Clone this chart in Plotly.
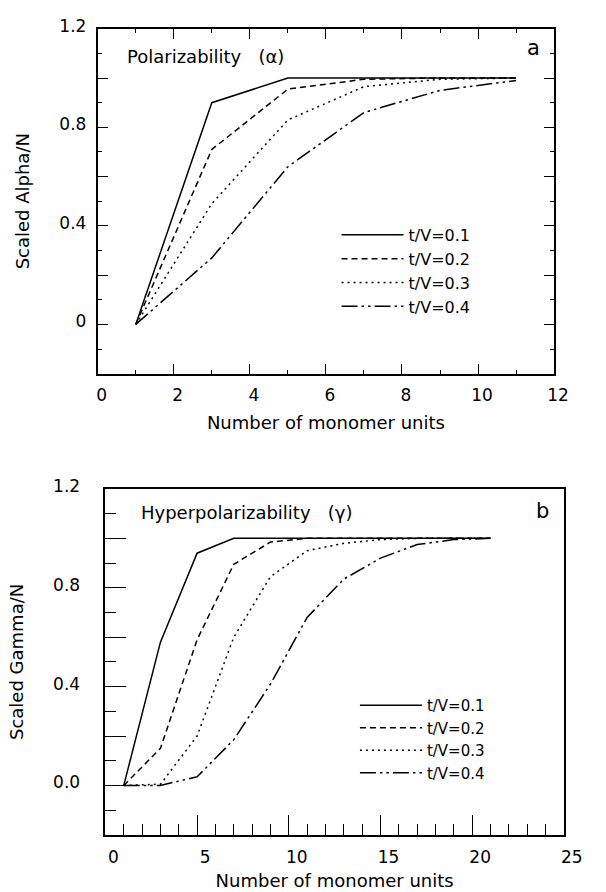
import plotly.graph_objects as go

# ---------------- data ----------------
series_labels = ["t/V=0.1", "t/V=0.2", "t/V=0.3", "t/V=0.4"]

# panel a: polarizability
n_alpha = [1, 3, 5, 7, 9, 11]
alpha_tv01 = [0.0, 0.90, 1.00, 1.00, 1.00, 1.00]
alpha_tv02 = [0.0, 0.71, 0.955, 0.995, 1.00, 1.00]
alpha_tv03 = [0.0, 0.49, 0.83, 0.965, 0.995, 1.00]
alpha_tv04 = [0.0, 0.27, 0.64, 0.86, 0.95, 0.99]

# panel b: hyperpolarizability
n_gamma = [1, 3, 5, 7, 9, 11, 13, 15, 17, 19, 21]
gamma_tv01 = [0.0, 0.58, 0.94, 1.00, 1.00, 1.00, 1.00, 1.00, 1.00, 1.00, 1.00]
gamma_tv02 = [0.0, 0.15, 0.59, 0.895, 0.985, 1.00, 1.00, 1.00, 1.00, 1.00, 1.00]
gamma_tv03 = [0.0, 0.005, 0.20, 0.60, 0.845, 0.95, 0.98, 0.995, 1.00, 1.00, 1.00]
gamma_tv04 = [0.0, 0.0, 0.035, 0.185, 0.41, 0.68, 0.835, 0.92, 0.975, 0.995, 1.00]

# tick labels
a_x_tickvals = [0, 2, 4, 6, 8, 10, 12]
a_x_ticktext = ["0", "2", "4", "6", "8", "10", "12"]
a_y_tickvals = [-0.2, 0.0, 0.2, 0.4, 0.6, 0.8, 1.0, 1.2]
a_y_ticktext = ["", "0", "", "0.4", "", "0.8", "", "1.2"]
b_x_tickvals = [0, 5, 10, 15, 20, 25]
b_x_ticktext = ["0", "5", "10", "15", "20", "25"]
b_y_tickvals = [-0.2, 0.0, 0.2, 0.4, 0.6, 0.8, 1.0, 1.2]
b_y_ticktext = ["", "0.0", "", "0.4", "", "0.8", "", "1.2"]

# ---------------- styling ----------------
W, H = 606, 892
FONT = "DejaVu Sans"
NB = "\u00a0"
dashes = ["solid", "6px,4px", "2px,4px", "16px,4px,2.5px,4px,2.5px,4px"]

fig = go.Figure()

alpha_series = [alpha_tv01, alpha_tv02, alpha_tv03, alpha_tv04]
gamma_series = [gamma_tv01, gamma_tv02, gamma_tv03, gamma_tv04]

for lab, ys, d in zip(series_labels, alpha_series, dashes):
    fig.add_trace(go.Scatter(x=n_alpha, y=ys, mode="lines", name=lab,
                             line=dict(color="black", width=1.5, dash=d),
                             xaxis="x", yaxis="y", legend="legend"))
for lab, ys, d in zip(series_labels, gamma_series, dashes):
    fig.add_trace(go.Scatter(x=n_gamma, y=ys, mode="lines", name=lab,
                             line=dict(color="black", width=1.5, dash=d),
                             xaxis="x2", yaxis="y2", legend="legend2"))

def px_x(p):
    return p / W

def px_y(p):
    return 1 - p / H

axis_common = dict(showgrid=False, zeroline=False, showline=True, linecolor="black",
                   linewidth=1.8, ticks="inside", tickcolor="black", tickwidth=1.3,
                   tickfont=dict(family=FONT, size=17, color="black"))

fig.update_layout(
    width=W, height=H,
    margin=dict(l=0, r=0, t=0, b=0),
    paper_bgcolor="white", plot_bgcolor="white",
    font=dict(family=FONT, size=17, color="black"),
    xaxis=dict(**axis_common, domain=[px_x(100), px_x(572)], range=[0, 12], anchor="y",
               mirror="ticks", tickmode="array", tickvals=a_x_tickvals, ticktext=a_x_ticktext,
               ticklen=10, minor=dict(dtick=1, ticklen=4, ticks="inside", tickcolor="black"),
               ticklabelstandoff=5, ticklabelshift=4,
               title=dict(text="Number of monomer units", font=dict(family=FONT, size=18),
                          standoff=12)),
    yaxis=dict(**axis_common, domain=[px_y(366), px_y(16)], range=[-0.2, 1.2], anchor="x",
               mirror="ticks", tickmode="array", tickvals=a_y_tickvals, ticktext=a_y_ticktext,
               ticklen=10, minor=dict(dtick=0.1, ticklen=4, ticks="inside", tickcolor="black"),
               ticklabelstandoff=6, ticklabelshift=-3,
               title=dict(text="Scaled Alpha/N", font=dict(family=FONT, size=18), standoff=25)),
    xaxis2=dict(**axis_common, domain=[px_x(108), px_x(582)], range=[0, 25], anchor="y2",
                mirror=True, tickmode="array", tickvals=b_x_tickvals, ticktext=b_x_ticktext,
                ticklen=20, minor=dict(dtick=1, ticklen=11, ticks="inside", tickcolor="black"),
                ticklabelstandoff=6, ticklabelshift=8,
                title=dict(text="Number of monomer units", font=dict(family=FONT, size=18),
                           standoff=8)),
    yaxis2=dict(**axis_common, domain=[px_y(834), px_y(483)], range=[-0.2, 1.2], anchor="x2",
                mirror=True, tickmode="array", tickvals=b_y_tickvals, ticktext=b_y_ticktext,
                ticklen=21, minor=dict(dtick=0.1, ticklen=11, ticks="inside", tickcolor="black"),
                ticklabelstandoff=20, ticklabelshift=-3,
                title=dict(text="Scaled Gamma/N", font=dict(family=FONT, size=18), standoff=25)),
    legend=dict(x=px_x(347), y=px_y(208), xanchor="left", yanchor="top",
                bgcolor="rgba(0,0,0,0)", borderwidth=0, itemwidth=62,
                font=dict(family=FONT, size=16, color="black"), tracegroupgap=0),
    legend2=dict(x=px_x(366), y=px_y(686), xanchor="left", yanchor="top",
                 bgcolor="rgba(0,0,0,0)", borderwidth=0, itemwidth=62,
                 font=dict(family=FONT, size=15, color="black"), tracegroupgap=0),
    annotations=[
        dict(text="Polarizability" + NB * 3 + "(α)", x=px_x(128), y=px_y(44),
             xref="paper", yref="paper", xanchor="left", yanchor="middle", showarrow=False,
             font=dict(family=FONT, size=18, color="black")),
        dict(text="a", x=px_x(551), y=px_y(36), xref="paper", yref="paper",
             xanchor="center", yanchor="middle", showarrow=False,
             font=dict(family=FONT, size=21, color="black")),
        dict(text="Hyperpolarizability" + NB * 3 + "(γ)", x=px_x(143), y=px_y(507),
             xref="paper", yref="paper", xanchor="left", yanchor="middle", showarrow=False,
             font=dict(family=FONT, size=18, color="black")),
        dict(text="b", x=px_x(560), y=px_y(505), xref="paper", yref="paper",
             xanchor="center", yanchor="middle", showarrow=False,
             font=dict(family=FONT, size=21, color="black")),
    ],
)

fig.write_html("out.html", config={"displayModeBar": False},
               post_script="document.body.style.margin='0px';document.body.style.overflow='hidden';")
